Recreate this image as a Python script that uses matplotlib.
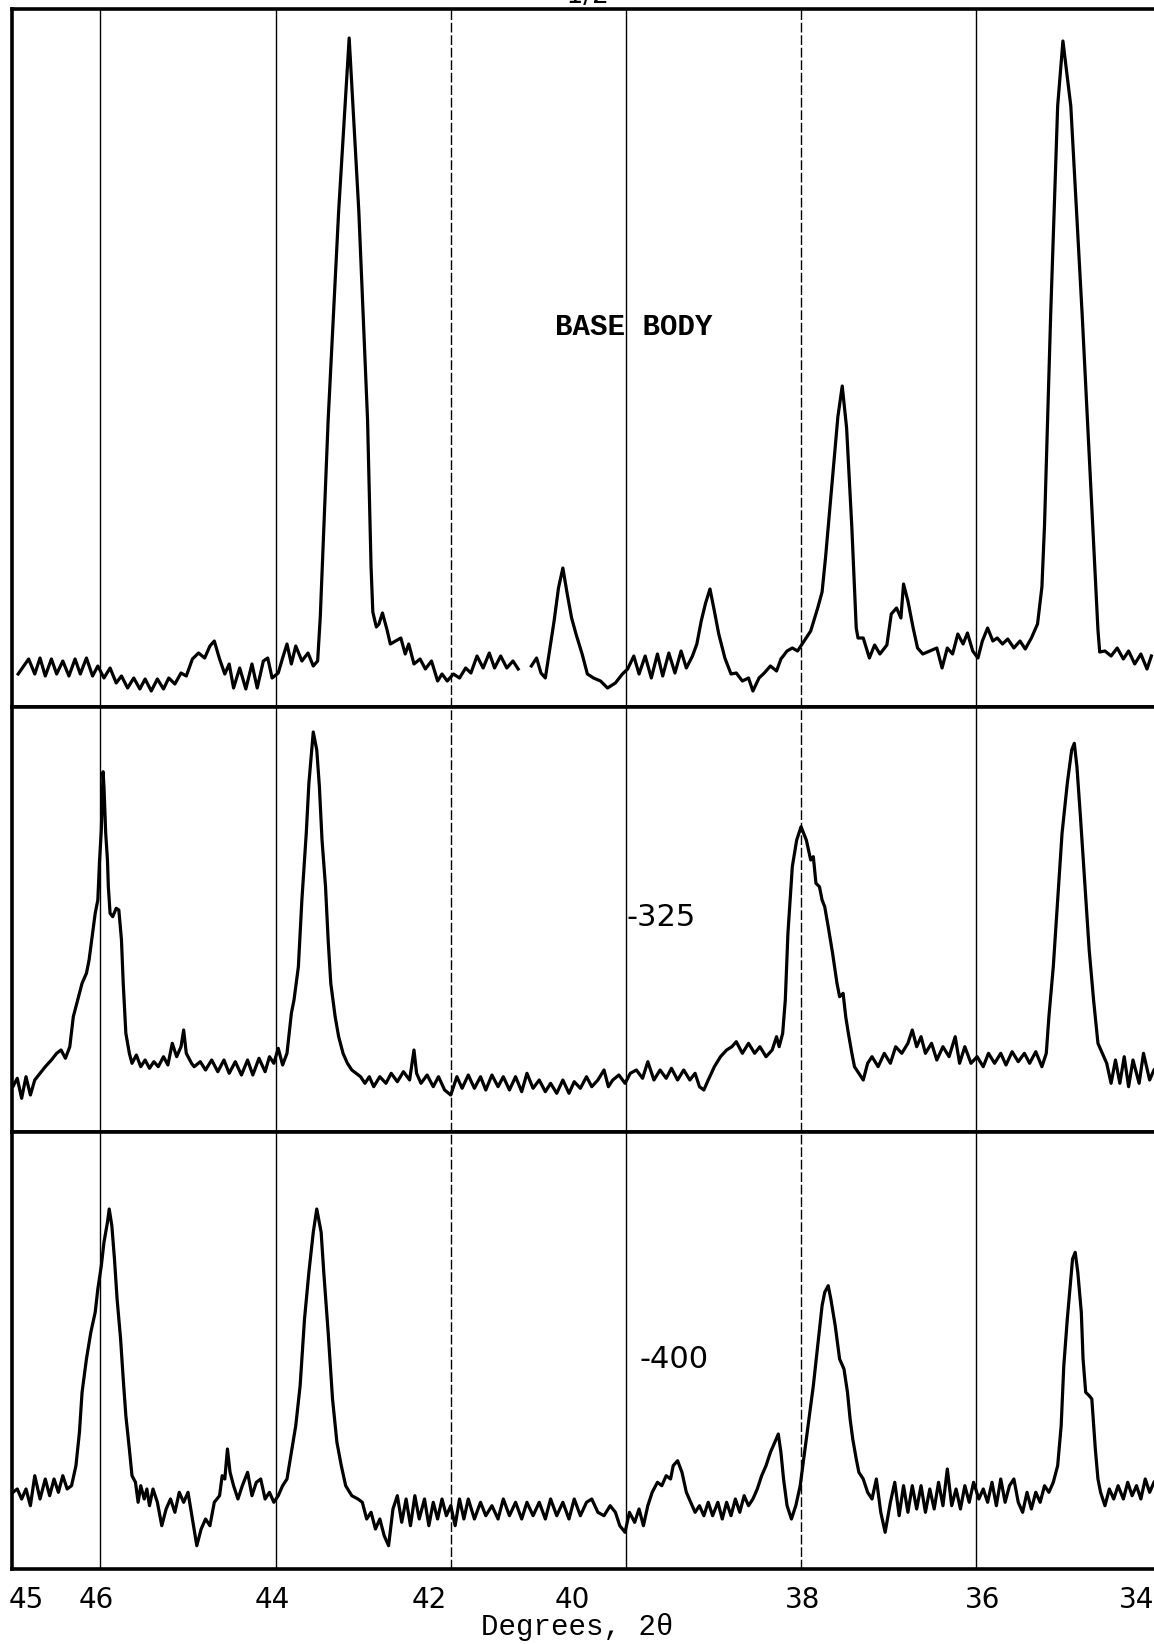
import numpy as np
import matplotlib
matplotlib.use("Agg")
import matplotlib.pyplot as plt

# --- data: (2-theta in degrees, pen height above panel floor) ---
base_trace = [
    (46.94, 33), (46.90, 38), (46.82, 48), (46.75, 33), (46.69, 49), (46.63, 31), (46.56, 48),
    (46.50, 33), (46.43, 46), (46.36, 31), (46.29, 48), (46.23, 33), (46.16, 49), (46.09, 31),
    (46.03, 41), (45.96, 29), (45.89, 39), (45.82, 24), (45.76, 31), (45.69, 19), (45.62, 29),
    (45.55, 18), (45.49, 28), (45.42, 16), (45.35, 28), (45.28, 18), (45.22, 29), (45.15, 23),
    (45.08, 34), (45.02, 31), (44.95, 48), (44.88, 54), (44.81, 49), (44.75, 61), (44.70, 66),
    (44.64, 48), (44.58, 33), (44.53, 43), (44.48, 19), (44.41, 39), (44.34, 18), (44.27, 43),
    (44.21, 19), (44.14, 46), (44.09, 49), (44.04, 29), (43.97, 34), (43.92, 49), (43.87, 63),
    (43.82, 43), (43.77, 61), (43.70, 46), (43.63, 54), (43.57, 41), (43.52, 46), (43.49, 90),
    (43.40, 287), (43.28, 496), (43.16, 669), (43.05, 496), (42.95, 287), (42.91, 140),
    (42.89, 95), (42.85, 80), (42.82, 83), (42.78, 94), (42.73, 78), (42.69, 63), (42.57, 69),
    (42.52, 53), (42.48, 63), (42.42, 43), (42.35, 48), (42.29, 38), (42.22, 46), (42.15, 26),
    (42.10, 33), (42.04, 26), (41.97, 33), (41.90, 29), (41.83, 39), (41.77, 34), (41.70, 51),
    (41.63, 39), (41.56, 54), (41.50, 39), (41.43, 51), (41.36, 39), (41.29, 46), (41.23, 38),
    (41.15, np.nan),
    (41.08, 41), (41.02, 49), (40.97, 34), (40.92, 29), (40.89, 46), (40.86, 63), (40.82, 86),
    (40.77, 119), (40.72, 139), (40.67, 113), (40.62, 89), (40.57, 73), (40.50, 53), (40.44, 33),
    (40.37, 29), (40.29, 26), (40.21, 19), (40.12, 24), (40.04, 33), (39.98, 38), (39.91, 51),
    (39.85, 33), (39.78, 51), (39.71, 29), (39.64, 53), (39.58, 31), (39.51, 54), (39.44, 34),
    (39.37, 56), (39.31, 39), (39.24, 51), (39.19, 63), (39.14, 86), (39.09, 104), (39.04, 118),
    (38.99, 96), (38.94, 73), (38.87, 49), (38.80, 33), (38.74, 34), (38.67, 26), (38.60, 29),
    (38.55, 16), (38.48, 29), (38.42, 34), (38.35, 41), (38.28, 36), (38.23, 48), (38.16, 56),
    (38.10, 59), (38.04, 56), (37.98, 64), (37.89, 76), (37.81, 99), (37.76, 115), (37.72, 150),
    (37.69, 180), (37.66, 210), (37.62, 250), (37.58, 290), (37.53, 321), (37.48, 279),
    (37.42, 179), (37.37, 79), (37.35, 69), (37.29, 69), (37.22, 49), (37.16, 62), (37.10, 53),
    (37.02, 62), (36.97, 93), (36.91, 99), (36.86, 89), (36.83, 123), (36.78, 106), (36.72, 79),
    (36.67, 59), (36.61, 53), (36.53, 56), (36.45, 59), (36.39, 39), (36.33, 59), (36.27, 53),
    (36.21, 73), (36.15, 63), (36.10, 74), (36.04, 56), (35.98, 49), (35.93, 66), (35.87, 79),
    (35.81, 66), (35.76, 69), (35.70, 63), (35.64, 68), (35.57, 59), (35.50, 66), (35.44, 58),
    (35.37, 69), (35.30, 83), (35.25, 120), (35.22, 182), (35.15, 392), (35.07, 601),
    (35.01, 666), (34.92, 601), (34.79, 392), (34.67, 182), (34.61, 77), (34.59, 55),
    (34.53, 56), (34.46, 51), (34.39, 59), (34.32, 48), (34.26, 56), (34.19, 43), (34.12, 53),
    (34.05, 38), (34.00, 51),
]

trace_325 = [
    (47.03, 48.7), (47.00, 45.3), (46.95, 53.7), (46.90, 33.7), (46.85, 55.3), (46.80, 37),
    (46.75, 52), (46.69, 58.7), (46.63, 65.3), (46.56, 72), (46.50, 78.7), (46.45, 82),
    (46.40, 73.7), (46.35, 85.3), (46.31, 115.3), (46.28, 125.3), (46.24, 138.7), (46.21, 148.7),
    (46.16, 158.7), (46.13, 172), (46.09, 198.7), (46.06, 218.7), (46.03, 232), (46.01, 272),
    (45.99, 302), (45.97, 360.3), (45.96, 345.3), (45.94, 298.7), (45.92, 272), (45.91, 245.3),
    (45.89, 218.7), (45.86, 215.3), (45.82, 223.7), (45.79, 222), (45.76, 192), (45.74, 148.7),
    (45.71, 98.7), (45.67, 78.7), (45.64, 68.7), (45.59, 77), (45.54, 65.3), (45.49, 72),
    (45.44, 63.7), (45.39, 70.3), (45.34, 65.3), (45.28, 75.3), (45.23, 67), (45.18, 88.7),
    (45.13, 75.3), (45.08, 85.3), (45.05, 102), (45.02, 78.7), (44.96, 68.7), (44.93, 65.3),
    (44.86, 70.3), (44.80, 62), (44.73, 72), (44.66, 60.3), (44.59, 72), (44.53, 58.7),
    (44.46, 70.3), (44.39, 57), (44.32, 72), (44.26, 57), (44.19, 73.7), (44.12, 60.3),
    (44.07, 75.3), (44.02, 68.7), (43.97, 83.7), (43.92, 67), (43.87, 78.7), (43.82, 118.7),
    (43.79, 132), (43.74, 165.3), (43.70, 232), (43.65, 298.7), (43.62, 348.7), (43.58, 390),
    (43.57, 400), (43.53, 382), (43.50, 345.3), (43.47, 292), (43.43, 245.3), (43.40, 192),
    (43.37, 148.7), (43.32, 115.3), (43.28, 95.3), (43.23, 78.7), (43.18, 68.7), (43.13, 62),
    (43.08, 58.7), (43.03, 55.3), (42.98, 48.7), (42.93, 55.3), (42.88, 45.3), (42.81, 55.3),
    (42.74, 48.7), (42.68, 58.7), (42.61, 50.3), (42.54, 60.3), (42.47, 52), (42.42, 82),
    (42.39, 58.7), (42.34, 48.7), (42.27, 57), (42.20, 45.3), (42.14, 55.3), (42.07, 42),
    (42.00, 37), (41.93, 55.3), (41.87, 43.7), (41.80, 57), (41.73, 43.7), (41.66, 55.3),
    (41.60, 42), (41.53, 57), (41.46, 45.3), (41.40, 55.3), (41.33, 42), (41.26, 55.3),
    (41.19, 40.3), (41.13, 58.7), (41.06, 43.7), (40.99, 52), (40.92, 40.3), (40.86, 48.7),
    (40.79, 38.7), (40.72, 52), (40.65, 38.7), (40.59, 50.3), (40.52, 43.7), (40.45, 55.3),
    (40.39, 45.3), (40.32, 52), (40.25, 62), (40.20, 45.3), (40.15, 52), (40.08, 57),
    (40.01, 48.7), (39.95, 58.7), (39.88, 62), (39.81, 53.7), (39.75, 70.3), (39.68, 52),
    (39.61, 62), (39.54, 53.7), (39.48, 63.7), (39.41, 52), (39.34, 62), (39.27, 52),
    (39.21, 58.7), (39.16, 45.3), (39.11, 42), (39.06, 52), (38.99, 65.3), (38.92, 75.3),
    (38.85, 82), (38.79, 85.3), (38.74, 90.3), (38.67, 78.7), (38.60, 88.7), (38.53, 78.7),
    (38.47, 85.3), (38.40, 75.3), (38.33, 82), (38.28, 95.3), (38.25, 85.3), (38.21, 98.7),
    (38.18, 132), (38.15, 198.7), (38.10, 265.3), (38.05, 292), (38.00, 305.3), (37.94, 292),
    (37.89, 272), (37.86, 275.3), (37.83, 248.7), (37.79, 245.3), (37.76, 232), (37.73, 225.3),
    (37.69, 205.3), (37.64, 178.7), (37.59, 148.7), (37.56, 135.3), (37.52, 138.7),
    (37.49, 115.3), (37.46, 98.7), (37.42, 78.7), (37.39, 65.3), (37.34, 58.7), (37.29, 52),
    (37.24, 68.7), (37.19, 75.3), (37.12, 65.3), (37.05, 78.7), (36.98, 68.7), (36.92, 85.3),
    (36.85, 78.7), (36.78, 88.7), (36.73, 102), (36.68, 85.3), (36.63, 95.3), (36.58, 78.7),
    (36.51, 88.7), (36.45, 72), (36.38, 85.3), (36.31, 75.3), (36.24, 95.3), (36.19, 68.7),
    (36.13, 85.3), (36.06, 68.7), (35.99, 75.3), (35.92, 65.3), (35.86, 78.7), (35.79, 68.7),
    (35.72, 78.7), (35.66, 67), (35.59, 80.3), (35.52, 70.3), (35.45, 78.7), (35.39, 68.7),
    (35.32, 80.3), (35.25, 65.3), (35.20, 78.7), (35.17, 115.3), (35.12, 165.3), (35.07, 232),
    (35.02, 298.7), (34.96, 348.7), (34.91, 382), (34.88, 388.7), (34.85, 365.3),
    (34.81, 315.3), (34.76, 248.7), (34.71, 182), (34.66, 132), (34.61, 88.7), (34.56, 78.7),
    (34.51, 68.7), (34.46, 48.7), (34.41, 72), (34.36, 48.7), (34.31, 75.3), (34.26, 45.3),
    (34.21, 72), (34.14, 48.7), (34.09, 78.7), (34.02, 52), (33.97, 62),
]

trace_400 = [
    (47.00, 76.7), (46.95, 80), (46.90, 70), (46.85, 80), (46.80, 63.3), (46.75, 93.3),
    (46.69, 70), (46.63, 90), (46.58, 73.3), (46.53, 90), (46.48, 76.7), (46.43, 93.3),
    (46.38, 80), (46.33, 83.3), (46.28, 103.3), (46.24, 136.7), (46.21, 176.7), (46.16, 210),
    (46.11, 236.7), (46.06, 256.7), (46.03, 280), (45.99, 303.3), (45.96, 326.7), (45.92, 346.7),
    (45.90, 360), (45.87, 343.3), (45.84, 310), (45.81, 270), (45.77, 230), (45.74, 190),
    (45.71, 153.3), (45.67, 120), (45.64, 93.3), (45.60, 86.7), (45.57, 66.7), (45.54, 83.3),
    (45.50, 70), (45.47, 80), (45.44, 63.3), (45.40, 80), (45.35, 66.7), (45.30, 43.3),
    (45.25, 60), (45.20, 70), (45.15, 56.7), (45.10, 76.7), (45.05, 66.7), (45.00, 76.7),
    (44.95, 50), (44.90, 23.3), (44.85, 40), (44.80, 50), (44.75, 43.3), (44.70, 66.7),
    (44.64, 73.3), (44.61, 93.3), (44.58, 90), (44.55, 120), (44.52, 96.7), (44.48, 83.3),
    (44.43, 70), (44.38, 83.3), (44.32, 96.7), (44.27, 73.3), (44.22, 86.7), (44.17, 90),
    (44.12, 70), (44.07, 76.7), (44.02, 66.7), (43.97, 73.3), (43.92, 83.3), (43.87, 90),
    (43.82, 116.7), (43.77, 143.3), (43.72, 183.3), (43.67, 250), (43.62, 296.7),
    (43.57, 336.7), (43.53, 360), (43.48, 336.7), (43.45, 296.7), (43.40, 236.7), (43.35, 170),
    (43.30, 126.7), (43.25, 103.3), (43.20, 83.3), (43.13, 73.3), (43.06, 70), (43.01, 66.7),
    (42.96, 50), (42.91, 56.7), (42.86, 40), (42.81, 50), (42.76, 33.3), (42.71, 23.3),
    (42.66, 60), (42.61, 73.3), (42.56, 46.7), (42.51, 70), (42.46, 43.3), (42.41, 73.3),
    (42.36, 50), (42.30, 70), (42.25, 43.3), (42.20, 66.7), (42.15, 50), (42.10, 70),
    (42.05, 53.3), (42.00, 63.3), (41.95, 43.3), (41.90, 70), (41.85, 50), (41.80, 70),
    (41.73, 50), (41.66, 66.7), (41.60, 53.3), (41.53, 63.3), (41.46, 50), (41.40, 70),
    (41.33, 53.3), (41.26, 66.7), (41.19, 50), (41.13, 66.7), (41.06, 53.3), (40.99, 66.7),
    (40.92, 50), (40.86, 70), (40.79, 53.3), (40.72, 66.7), (40.65, 50), (40.59, 70),
    (40.52, 53.3), (40.45, 66.7), (40.39, 70), (40.32, 56.7), (40.25, 53.3), (40.18, 63.3),
    (40.12, 56.7), (40.07, 43.3), (40.01, 36.7), (39.96, 56.7), (39.90, 46.7), (39.85, 60),
    (39.80, 43.3), (39.75, 63.3), (39.70, 76.7), (39.64, 86.7), (39.59, 83.3), (39.54, 93.3),
    (39.49, 90), (39.46, 103.3), (39.41, 108.3), (39.36, 96.7), (39.31, 76.7), (39.26, 66.7),
    (39.21, 56.7), (39.16, 63.3), (39.11, 53.3), (39.06, 66.7), (39.01, 53.3), (38.95, 66.7),
    (38.90, 50), (38.85, 66.7), (38.80, 53.3), (38.75, 70), (38.70, 56.7), (38.65, 73.3),
    (38.60, 63.3), (38.55, 70), (38.50, 80), (38.45, 93.3), (38.40, 103.3), (38.35, 116.7),
    (38.30, 126.7), (38.26, 135), (38.23, 116.7), (38.20, 90), (38.16, 63.3), (38.11, 50),
    (38.06, 63.3), (38.01, 83.3), (37.96, 116.7), (37.91, 150), (37.86, 183.3), (37.81, 223.3),
    (37.76, 263.3), (37.73, 276.7), (37.69, 283.3), (37.66, 270), (37.61, 243.3), (37.56, 210),
    (37.51, 200), (37.47, 176.7), (37.44, 150), (37.41, 130), (37.37, 110), (37.34, 96.7),
    (37.29, 90), (37.24, 76.7), (37.19, 70), (37.14, 90), (37.09, 56.7), (37.04, 36.7),
    (36.98, 66.7), (36.93, 86.7), (36.88, 53.3), (36.83, 83.3), (36.78, 56.7), (36.73, 83.3),
    (36.68, 60), (36.63, 83.3), (36.58, 56.7), (36.53, 80), (36.48, 60), (36.43, 86.7),
    (36.38, 63.3), (36.33, 100), (36.28, 63.3), (36.23, 80), (36.18, 60), (36.13, 83.3),
    (36.08, 66.7), (36.03, 86.7), (35.97, 70), (35.92, 80), (35.87, 66.7), (35.82, 86.7),
    (35.77, 63.3), (35.72, 90), (35.67, 66.7), (35.62, 83.3), (35.57, 90), (35.52, 66.7),
    (35.47, 56.7), (35.42, 76.7), (35.37, 60), (35.32, 76.7), (35.27, 66.7), (35.22, 83.3),
    (35.17, 76.7), (35.12, 86.7), (35.07, 103.3), (35.03, 143.3), (35.00, 203.3), (34.96, 250),
    (34.93, 280), (34.90, 310), (34.87, 316.7), (34.84, 296.7), (34.80, 256.7), (34.78, 210),
    (34.75, 176.7), (34.71, 173.3), (34.68, 170), (34.64, 120), (34.61, 90), (34.58, 76.7),
    (34.53, 63.3), (34.48, 80), (34.43, 70), (34.38, 83.3), (34.32, 70), (34.27, 86.7),
    (34.22, 73.3), (34.17, 83.3), (34.12, 70), (34.07, 90), (34.02, 76.7), (33.97, 86.7),
]

grid_degrees = [46, 44, 42, 40, 38, 36]
grid_styles = ['-', '-', (0, (7, 2)), '-', (0, (7, 2)), '-']
tick_pos = [46.85, 46.05, 44.04, 42.24, 40.61, 37.98, 35.93, 34.17]
tick_labels = ['45', '46', '44', '42', '40', '38', '36', '34']

# --- layout (figure pixels 1154 x 1644) ---
W, H = 1154, 1644
fig = plt.figure(figsize=(W / 100, H / 100), dpi=100)
left = 12 / W
panels = [
    # trace, top px, bottom px, label, label position
    (base_trace, 9, 707, 'BASE BODY', (39.91, 380)),
    (trace_325, 707, 1132, '-325', (39.99, 215)),
    (trace_400, 1132, 1569, '-400', (39.85, 210)),
]

axes = []
for trace, top_px, bot_px, label, (lx, ly) in panels:
    ax = fig.add_axes([left, 1 - bot_px / H, 1 - left, (bot_px - top_px) / H])
    xs, ys = np.array(trace, dtype=float).T
    ax.plot(xs, ys, color='black', lw=2.3, solid_joinstyle='round')
    for g, ls in zip(grid_degrees, grid_styles):
        ax.axvline(g, color='black', lw=1.0, ls=ls)
    ax.set_xlim(47.01, 33.97)
    ax.set_ylim(0, bot_px - top_px)
    for side in ['left', 'top', 'bottom']:
        ax.spines[side].set_linewidth(2.6)
    ax.spines['right'].set_visible(False)
    ax.set_yticks([])
    ax.set_xticks([])
    if label == 'BASE BODY':
        ax.text(lx, ly, label, ha='center', va='center', fontsize=21,
                family='Liberation Mono', fontweight='bold', color='black')
    else:
        ax.text(lx, ly, label, ha='left', va='center', fontsize=22,
                family='DejaVu Sans', color='black')
    axes.append(ax)

ax_bot = axes[-1]
ax_bot.set_xticks(tick_pos)
ax_bot.set_xticklabels(tick_labels, fontsize=20, family='DejaVu Sans')
ax_bot.tick_params(axis='x', length=0, pad=12)

fig.text(577 / W, 1 - 1627 / H, 'Degrees, 2θ', ha='center', va='center',
         fontsize=21, family='Liberation Mono')
# label cut off at the top edge of the scan
fig.text(584 / W, 1 - 3 / H, '-1/2', ha='center', va='baseline',
         fontsize=19, family='DejaVu Sans')

fig.savefig('out.png', dpi=100, facecolor='white')
